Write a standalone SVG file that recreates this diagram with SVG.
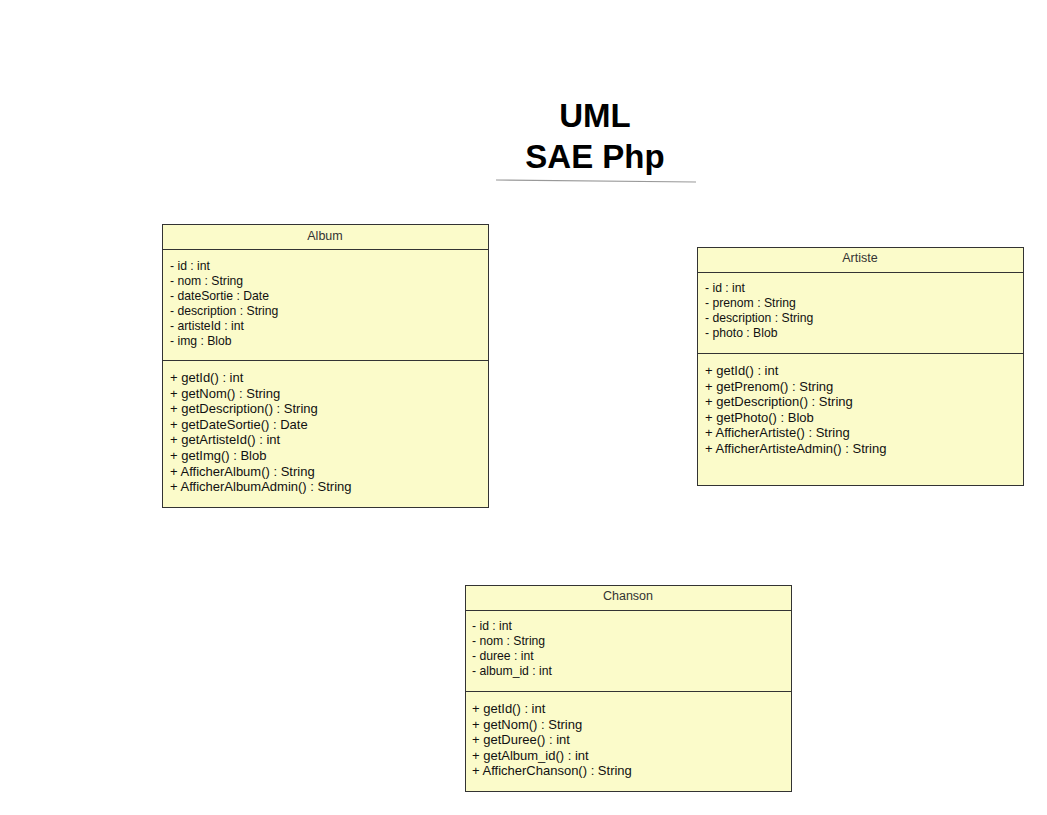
<svg xmlns="http://www.w3.org/2000/svg" width="1047" height="815" viewBox="0 0 1047 815">
<style>
.box{fill:#fbfbca;stroke:#333;stroke-width:1}
.sep{stroke:#333;stroke-width:1}
.hd{font-family:"Liberation Sans",Arial,sans-serif;font-size:12.5px;fill:#333;text-anchor:middle}
.at{font-family:"Liberation Sans",Arial,sans-serif;font-size:12.2px;fill:#111}
.me{font-family:"Liberation Sans",Arial,sans-serif;font-size:13px;fill:#111}
.ttl{font-family:"Liberation Sans",Arial,sans-serif;font-size:33px;font-weight:bold;fill:#000;text-anchor:middle}
</style>
<rect width="1047" height="815" fill="#fff"/>
<g id="title">
<text class="ttl" x="595" y="127">UML</text>
<text class="ttl" x="595" y="168">SAE Php</text>
<line x1="496" y1="180" x2="696" y2="182" stroke="#999" stroke-width="1.2"/>
</g>
<g id="album">
<rect class="box" x="162.5" y="224.5" width="326" height="283"/>
<line class="sep" x1="162.5" y1="249.5" x2="488.5" y2="249.5"/>
<line class="sep" x1="162.5" y1="360.5" x2="488.5" y2="360.5"/>
<text class="hd" x="325" y="240">Album</text>
<text class="at" x="170" y="270">- id : int</text>
<text class="at" x="170" y="285">- nom : String</text>
<text class="at" x="170" y="300">- dateSortie : Date</text>
<text class="at" x="170" y="315">- description : String</text>
<text class="at" x="170" y="330">- artisteId : int</text>
<text class="at" x="170" y="345">- img : Blob</text>
<text class="me" x="170" y="382">+ getId() : int</text>
<text class="me" x="170" y="398">+ getNom() : String</text>
<text class="me" x="170" y="413">+ getDescription() : String</text>
<text class="me" x="170" y="429">+ getDateSortie() : Date</text>
<text class="me" x="170" y="444">+ getArtisteId() : int</text>
<text class="me" x="170" y="460">+ getImg() : Blob</text>
<text class="me" x="170" y="476">+ AfficherAlbum() : String</text>
<text class="me" x="170" y="491">+ AfficherAlbumAdmin() : String</text>
</g>
<g id="artiste">
<rect class="box" x="697.5" y="247.5" width="326" height="238"/>
<line class="sep" x1="697.5" y1="272.5" x2="1023.5" y2="272.5"/>
<line class="sep" x1="697.5" y1="353.5" x2="1023.5" y2="353.5"/>
<text class="hd" x="860" y="262">Artiste</text>
<text class="at" x="705" y="292">- id : int</text>
<text class="at" x="705" y="307">- prenom : String</text>
<text class="at" x="705" y="322">- description : String</text>
<text class="at" x="705" y="337">- photo : Blob</text>
<text class="me" x="705" y="375">+ getId() : int</text>
<text class="me" x="705" y="391">+ getPrenom() : String</text>
<text class="me" x="705" y="406">+ getDescription() : String</text>
<text class="me" x="705" y="422">+ getPhoto() : Blob</text>
<text class="me" x="705" y="437">+ AfficherArtiste() : String</text>
<text class="me" x="705" y="453">+ AfficherArtisteAdmin() : String</text>
</g>
<g id="chanson">
<rect class="box" x="465.5" y="585.5" width="326" height="206"/>
<line class="sep" x1="465.5" y1="610.5" x2="791.5" y2="610.5"/>
<line class="sep" x1="465.5" y1="691.5" x2="791.5" y2="691.5"/>
<text class="hd" x="628" y="600">Chanson</text>
<text class="at" x="472" y="630">- id : int</text>
<text class="at" x="472" y="645">- nom : String</text>
<text class="at" x="472" y="660">- duree : int</text>
<text class="at" x="472" y="675">- album_id : int</text>
<text class="me" x="472" y="713">+ getId() : int</text>
<text class="me" x="472" y="729">+ getNom() : String</text>
<text class="me" x="472" y="744">+ getDuree() : int</text>
<text class="me" x="472" y="760">+ getAlbum_id() : int</text>
<text class="me" x="472" y="775">+ AfficherChanson() : String</text>
</g>
<g id="connectors"></g>
</svg>
